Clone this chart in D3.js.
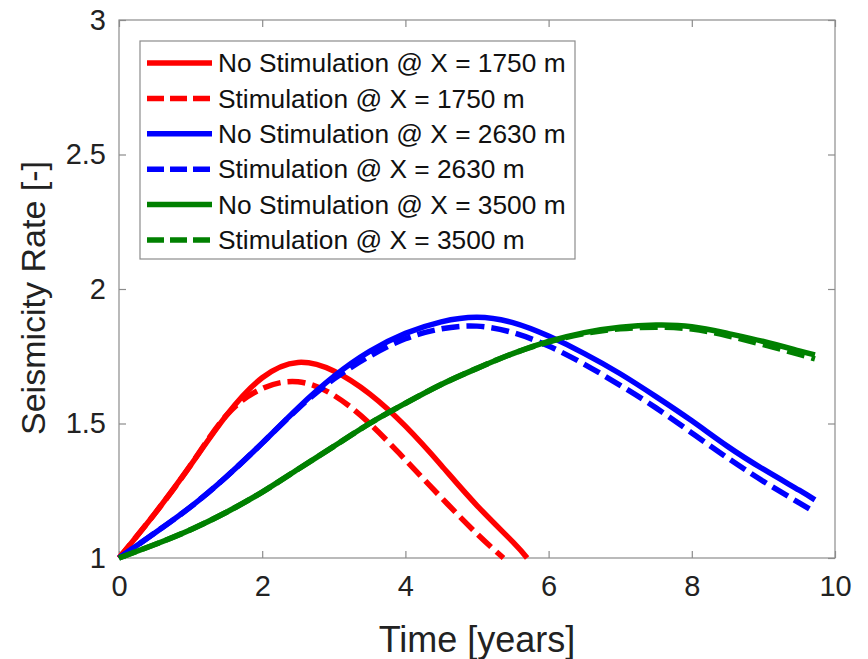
<!DOCTYPE html>
<html>
<head>
<meta charset="utf-8">
<script src="https://cdn.jsdelivr.net/npm/d3@7"></script>
<style>
  html, body { margin: 0; padding: 0; background: #fff; }
  svg { display: block; font-family: "Liberation Sans", Arial, Helvetica, sans-serif; }
</style>
</head>
<body>
<svg id="chart" width="868" height="659"></svg>
<script>
// Seismicity rate over time at three distances, with and without stimulation
const timeYears = [0, 0.5, 1, 1.5, 2, 2.5, 3, 3.5, 4, 4.5, 5, 5.5, 6, 6.5, 7, 7.5, 8, 8.5, 9, 9.5, 9.72];

const tNoStim1750 = [0, 0.5, 1, 1.5, 2, 2.5, 3, 3.5, 4, 4.5, 5, 5.5, 5.7];
const noStim1750  = [1, 1.165, 1.345, 1.53, 1.67, 1.727, 1.695, 1.61, 1.49, 1.345, 1.195, 1.06, 1.0];
const tStim1750   = [0, 0.5, 1, 1.5, 2, 2.5, 3, 3.5, 4, 4.5, 5, 5.37];
const stim1750    = [1, 1.165, 1.345, 1.53, 1.63, 1.655, 1.605, 1.50, 1.365, 1.225, 1.09, 1.0];

const noStim2630 = [1, 1.093, 1.19, 1.302, 1.427, 1.558, 1.675, 1.768, 1.835, 1.878, 1.895, 1.875, 1.825, 1.76, 1.685, 1.60, 1.51, 1.415, 1.33, 1.252, 1.216];
const stim2630   = [1, 1.093, 1.19, 1.302, 1.427, 1.555, 1.665, 1.75, 1.815, 1.852, 1.862, 1.838, 1.788, 1.72, 1.642, 1.558, 1.465, 1.372, 1.285, 1.205, 1.17];

const noStim3500 = [1, 1.05, 1.105, 1.17, 1.245, 1.33, 1.415, 1.50, 1.575, 1.645, 1.705, 1.76, 1.805, 1.838, 1.858, 1.866, 1.86, 1.835, 1.805, 1.77, 1.755];
const stim3500   = [1, 1.05, 1.105, 1.17, 1.245, 1.33, 1.415, 1.50, 1.575, 1.645, 1.705, 1.76, 1.803, 1.834, 1.852, 1.858, 1.851, 1.826, 1.793, 1.757, 1.74];

const xTicks = [0, 2, 4, 6, 8, 10];
const yTicks = [1, 1.5, 2, 2.5, 3];

const seriesNames = [
  "No Stimulation @ X = 1750 m",
  "Stimulation @ X = 1750 m",
  "No Stimulation @ X = 2630 m",
  "Stimulation @ X = 2630 m",
  "No Stimulation @ X = 3500 m",
  "Stimulation @ X = 3500 m"
];
const seriesColors = ["#ff0000", "#ff0000", "#0000ff", "#0000ff", "#008000", "#008000"];
const seriesDashed = [false, true, false, true, false, true];

const series = [
  { t: tNoStim1750, v: noStim1750 },
  { t: tStim1750, v: stim1750 },
  { t: timeYears, v: noStim2630 },
  { t: timeYears, v: stim2630 },
  { t: timeYears, v: noStim3500 },
  { t: timeYears, v: stim3500 }
];

const svg = d3.select("#chart");
const margin = { left: 119, right: 33, top: 20, bottom: 101 };
const W = 868, H = 659;
const x = d3.scaleLinear().domain([0, 10]).range([margin.left, W - margin.right]);
const y = d3.scaleLinear().domain([1, 3]).range([H - margin.bottom, margin.top]);

const axisColor = "#8c8c8c";
const tickLen = 7;

// Plot box
svg.append("rect")
  .attr("x", x(0)).attr("y", y(3))
  .attr("width", x(10) - x(0)).attr("height", y(1) - y(3))
  .attr("fill", "none").attr("stroke", axisColor).attr("stroke-width", 1.2);

function styleAxis(g, showLabels) {
  g.select(".domain").remove();
  g.selectAll(".tick line").attr("stroke", axisColor).attr("stroke-width", 1.2);
  g.selectAll(".tick text")
    .attr("fill", "#222")
    .style("font-size", "29px")
    .style("display", showLabels ? null : "none");
}

svg.append("g").attr("transform", `translate(0,${y(1)})`)
  .call(d3.axisBottom(x).tickValues(xTicks).tickFormat(d3.format("d")).tickSizeInner(-tickLen).tickSizeOuter(0).tickPadding(17))
  .call(g => styleAxis(g, true));
svg.append("g").attr("transform", `translate(0,${y(3)})`)
  .call(d3.axisTop(x).tickValues(xTicks).tickSizeInner(-tickLen).tickSizeOuter(0))
  .call(g => styleAxis(g, false));
svg.append("g").attr("transform", `translate(${x(0)},0)`)
  .call(d3.axisLeft(y).tickValues(yTicks).tickFormat(d => String(d)).tickSizeInner(-tickLen).tickSizeOuter(0).tickPadding(13))
  .call(g => styleAxis(g, true));
svg.append("g").attr("transform", `translate(${x(10)},0)`)
  .call(d3.axisRight(y).tickValues(yTicks).tickSizeInner(-tickLen).tickSizeOuter(0))
  .call(g => styleAxis(g, false));

// Axis titles
svg.append("text")
  .attr("x", (x(0) + x(10)) / 2).attr("y", 652)
  .attr("text-anchor", "middle").attr("fill", "#222")
  .style("font-size", "36px").text("Time [years]");
svg.append("text")
  .attr("transform", `translate(45,298) rotate(-90)`)
  .attr("text-anchor", "middle").attr("fill", "#222")
  .style("font-size", "34px").text("Seismicity Rate [-]");

// Curves
const line = d3.line()
  .x(d => x(d[0])).y(d => y(d[1]))
  .curve(d3.curveNatural);

const dash = "18,7";
series.forEach((s, i) => {
  const pts = s.t.map((t, k) => [t, s.v[k]]);
  svg.append("path")
    .datum(pts)
    .attr("d", line)
    .attr("fill", "none")
    .attr("stroke", seriesColors[i])
    .attr("stroke-width", 5.5)
    .attr("stroke-dasharray", seriesDashed[i] ? dash : null);
});

// Legend
const legend = svg.append("g");
legend.append("rect")
  .attr("x", 140).attr("y", 41).attr("width", 435).attr("height", 218)
  .attr("fill", "#fff").attr("stroke", "#8c8c8c").attr("stroke-width", 1.2);
seriesNames.forEach((name, i) => {
  const cy = 63 + i * 35.4;
  legend.append("line")
    .attr("x1", 147).attr("x2", 212).attr("y1", cy).attr("y2", cy)
    .attr("stroke", seriesColors[i]).attr("stroke-width", 5.5)
    .attr("stroke-dasharray", seriesDashed[i] ? "17,6" : null);
  legend.append("text")
    .attr("x", 218).attr("y", cy).attr("dy", "0.35em")
    .attr("fill", "#111").style("font-size", "26.3px")
    .text(name);
});
</script>
</body>
</html>
